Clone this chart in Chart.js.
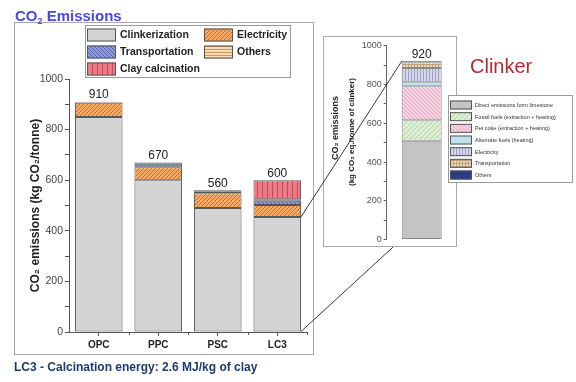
<!DOCTYPE html>
<html>
<head>
<meta charset="utf-8">
<script src="https://cdn.jsdelivr.net/npm/chart.js@4/dist/chart.umd.min.js"></script>
<style>
  html, body { margin: 0; padding: 0; background: #fff; }
  #page { position: relative; width: 576px; height: 382px; overflow: hidden; }
  canvas { position: absolute; }
  #main { left: 0; top: 0; }
  #inset { left: 323px; top: 36px; }
  #links { left: 0; top: 0; pointer-events: none; }
</style>
</head>
<body>
<div id="page">
  <canvas id="main" width="576" height="382" style="width:576px;height:382px"></canvas>
  <canvas id="inset" width="253" height="211" style="width:253px;height:211px"></canvas>
  <canvas id="links" width="576" height="382" style="width:576px;height:382px"></canvas>
</div>
<script>
// ---- cement types: CO2 emissions by source (kg CO2 / tonne) ----
const categories = ['OPC', 'PPC', 'PSC', 'LC3'];
const clinkerization   = [850, 600, 490, 455];
const electricity      = [56, 51, 58, 47];
const transportation   = [2, 14, 8, 17];
const others           = [2, 5, 4, 6];
const clayCalcination  = [0, 0, 0, 75];
const yTickLabels      = [0, 200, 400, 600, 800, 1000];

// ---- clinker breakdown (kg CO2 eq. / tonne of clinker) ----
const clinkerCategory    = ['Clinker'];
const directLimestone    = [510];
const fossilFuels        = [106];
const petCoke            = [175];
const alternateFuels     = [20];
const clinkerElectricity = [74];
const clinkerTransport   = [30];
const clinkerOthers      = [5];
const insetTickLabels    = [0, 200, 400, 600, 800, 1000];

const FONT = '"Liberation Sans", Arial, Helvetica, sans-serif';
Chart.defaults.font.family = FONT;
Chart.defaults.color = '#333';

// hatch fills for the bar segments
function hatch(ctx, bg, fg, kind, size) {
  const c = document.createElement('canvas');
  c.width = c.height = size;
  const g = c.getContext('2d');
  g.fillStyle = bg;
  g.fillRect(0, 0, size, size);
  g.strokeStyle = fg;
  g.lineWidth = 1;
  g.beginPath();
  const h = Math.floor(size / 2) + 0.5;
  if (kind === 'fwd') {
    g.moveTo(0, size); g.lineTo(size, 0);
    g.moveTo(-size, size); g.lineTo(0, 0);
    g.moveTo(size, 2 * size); g.lineTo(2 * size, size);
  } else if (kind === 'back') {
    g.moveTo(0, 0); g.lineTo(size, size);
    g.moveTo(-size, 0); g.lineTo(0, size);
    g.moveTo(size, 0); g.lineTo(2 * size, size);
  } else if (kind === 'vert') {
    g.moveTo(h, 0); g.lineTo(h, size);
  } else if (kind === 'horiz') {
    g.moveTo(0, h); g.lineTo(size, h);
  } else if (kind === 'grid') {
    g.moveTo(h, 0); g.lineTo(h, size);
    g.moveTo(0, h); g.lineTo(size, h);
  }
  g.stroke();
  return ctx.createPattern(c, 'repeat');
}

function sumAt(datasets, i) {
  return datasets.reduce((s, d) => s + (d.data[i] || 0), 0);
}

// ================= main chart =================
const mainCtx = document.getElementById('main').getContext('2d');

const mainDecor = {
  id: 'mainDecor',
  beforeDraw(chart) {
    const c = chart.ctx;
    c.save();
    c.strokeStyle = '#a8a8a8';
    c.lineWidth = 1;
    c.strokeRect(14.5, 22.5, 299, 332);
    c.restore();
  },
  afterDraw(chart) {
    const c = chart.ctx;
    const xs = chart.scales.x, ys = chart.scales.y;
    const ds = chart.data.datasets;
    c.save();

    // boundary ticks between categories
    c.strokeStyle = '#555';
    c.lineWidth = 1;
    const step = (xs.right - xs.left) / categories.length;
    c.beginPath();
    for (let i = 1; i <= categories.length; i++) {
      const x = Math.round(xs.left + i * step) + 0.5;
      c.moveTo(x, ys.bottom); c.lineTo(x, ys.bottom + 3);
    }
    c.stroke();

    // totals above the stacks
    c.fillStyle = '#222';
    c.font = '12px ' + FONT;
    c.textAlign = 'center';
    c.textBaseline = 'bottom';
    categories.forEach((_, i) => {
      const total = sumAt(ds, i);
      c.fillText(String(total), xs.getPixelForValue(i), ys.getPixelForValue(total) - 1);
    });

    // legend
    const slots = [
      { idx: 0, x: 87, y: 35 }, { idx: 2, x: 87, y: 52 }, { idx: 4, x: 87, y: 69 },
      { idx: 1, x: 204, y: 35 }, { idx: 3, x: 204, y: 52 }
    ];
    c.fillStyle = '#fff';
    c.fillRect(85.5, 25.5, 205, 52);
    c.strokeStyle = '#9a9a9a';
    c.strokeRect(85.5, 25.5, 205, 52);
    c.font = 'bold 10.5px ' + FONT;
    c.textAlign = 'left';
    c.textBaseline = 'middle';
    slots.forEach(s => {
      const d = ds[s.idx];
      c.fillStyle = d.backgroundColor;
      c.fillRect(s.x, s.y - 6.5, 29, 13);
      c.strokeStyle = '#555';
      c.strokeRect(s.x + 0.5, s.y - 6, 28, 12);
      c.fillStyle = '#222';
      c.fillText(d.label, s.x + 33, s.y + 0.5);
    });

    // heading
    c.fillStyle = '#4a46ee';
    c.font = 'bold 15px ' + FONT;
    c.textBaseline = 'alphabetic';
    c.fillText('CO', 15, 21);
    const w = c.measureText('CO').width;
    c.font = 'bold 9px ' + FONT;
    c.fillText('2', 15 + w, 24);
    const w2 = c.measureText('2').width;
    c.font = 'bold 15px ' + FONT;
    c.fillText(' Emissions', 15 + w + w2, 21);

    // footnote
    c.fillStyle = '#1f3a70';
    c.font = 'bold 12px ' + FONT;
    c.fillText('LC3 - Calcination energy: 2.6 MJ/kg of clay', 14, 371);
    c.restore();
  }
};

const barBorder = '#585858';
const mainChart = new Chart(mainCtx, {
  type: 'bar',
  data: {
    labels: categories,
    datasets: [
      { label: 'Clinkerization', data: clinkerization, backgroundColor: '#d4d4d4' },
      { label: 'Electricity', data: electricity, backgroundColor: hatch(mainCtx, '#f4aa62', '#c0712e', 'fwd', 4) },
      { label: 'Transportation', data: transportation, backgroundColor: hatch(mainCtx, '#8e9ada', '#5060b0', 'back', 4) },
      { label: 'Others', data: others, backgroundColor: hatch(mainCtx, '#f9dcb4', '#cf9658', 'horiz', 3) },
      { label: 'Clay calcination', data: clayCalcination, backgroundColor: hatch(mainCtx, '#ec7a86', '#c04e5a', 'vert', 5) }
    ].map(d => Object.assign(d, { borderColor: barBorder, borderWidth: 1, borderSkipped: false }))
  },
  options: {
    responsive: false,
    animation: false,
    devicePixelRatio: 1,
    layout: { padding: { left: 0, top: 79, right: 269, bottom: 20 } },
    datasets: { bar: { categoryPercentage: 1, barPercentage: 0.8 } },
    plugins: { legend: { display: false }, tooltip: { enabled: false } },
    scales: {
      x: {
        stacked: true,
        grid: { offset: false, drawOnChartArea: false, tickLength: 4, color: '#555' },
        border: { color: '#555' },
        ticks: { font: { size: 10, weight: 'bold' }, color: '#222', padding: 3 },
        afterFit(s) { s.height = 30; }
      },
      y: {
        stacked: true,
        min: 0, max: 1000,
        grid: { drawOnChartArea: false, tickLength: 4, color: '#555' },
        border: { color: '#555' },
        ticks: {
          stepSize: 100, autoSkip: false, padding: 2,
          font: { size: 10.5 }, color: '#444',
          callback: v => (yTickLabels.includes(v) ? String(v) : '')
        },
        title: {
          display: true,
          text: 'CO₂ emissions (kg CO₂/tonne)',
          font: { size: 12, weight: 'bold' }, color: '#222',
          padding: { top: 28, bottom: 0 }
        },
        afterFit(s) { s.width = 69; }
      }
    }
  },
  plugins: [mainDecor]
});

// ================= clinker inset =================
const insetCtx = document.getElementById('inset').getContext('2d');

const insetDecor = {
  id: 'insetDecor',
  beforeDraw(chart) {
    const c = chart.ctx;
    c.save();
    c.fillStyle = '#fff';
    c.fillRect(0, 0, 134, 211);
    c.strokeStyle = '#a8a8a8';
    c.strokeRect(0.5, 0.5, 133, 210);
    c.restore();
  },
  afterDraw(chart) {
    const c = chart.ctx;
    const xs = chart.scales.x, ys = chart.scales.y;
    const ds = chart.data.datasets;
    c.save();

    // axis title, two lines
    c.fillStyle = '#222';
    c.textAlign = 'center';
    c.textBaseline = 'middle';
    c.translate(13, 92);
    c.rotate(-Math.PI / 2);
    c.font = 'bold 9px ' + FONT;
    c.fillText('CO₂ emissions', 0, 0);
    c.setTransform(1, 0, 0, 1, 0, 0);
    c.translate(29, 96);
    c.rotate(-Math.PI / 2);
    c.font = 'bold 8px ' + FONT;
    c.fillText('(kg CO₂ eq./tonne of clinker)', 0, 0);
    c.setTransform(1, 0, 0, 1, 0, 0);

    // total above the bar
    const total = sumAt(ds, 0);
    c.font = '12px ' + FONT;
    c.textBaseline = 'bottom';
    c.fillText(String(total), xs.getPixelForValue(0), ys.getPixelForValue(total) - 1);

    // legend box
    c.fillStyle = '#fff';
    c.fillRect(125.5, 59.5, 124, 87);
    c.strokeStyle = '#9a9a9a';
    c.lineWidth = 1;
    c.strokeRect(125.5, 59.5, 124, 87);
    c.font = '5.5px ' + FONT;
    c.textAlign = 'left';
    c.textBaseline = 'middle';
    ds.forEach((d, i) => {
      const y = 69 + i * 11.67;
      c.fillStyle = d.backgroundColor;
      c.fillRect(127, y - 4.5, 22, 9);
      c.strokeStyle = '#555';
      c.strokeRect(127.5, y - 4, 21, 8);
      c.fillStyle = '#333';
      c.fillText(d.label, 152, y + 0.5);
    });

    // panel label
    c.fillStyle = '#b52a2f';
    c.font = '20px ' + FONT;
    c.textBaseline = 'alphabetic';
    c.fillText('Clinker', 147, 37);
    c.restore();
  }
};

const insetChart = new Chart(insetCtx, {
  type: 'bar',
  data: {
    labels: clinkerCategory,
    datasets: [
      { label: 'Direct emissions form limestone', data: directLimestone, backgroundColor: '#c4c4c4', borderColor: '#858585' },
      { label: 'Fossil fuels (extraction + heating)', data: fossilFuels, backgroundColor: hatch(insetCtx, '#dcefd4', '#b2d4a4', 'fwd', 5), borderColor: '#8a8a8a' },
      { label: 'Pet coke (extraction + heating)', data: petCoke, backgroundColor: hatch(insetCtx, '#f7d2e2', '#e6a6c2', 'back', 4), borderColor: '#8a8a8a' },
      { label: 'Alternate fuels (heating)', data: alternateFuels, backgroundColor: '#bfe3ee', borderColor: '#7a8a90' },
      { label: 'Electricity', data: clinkerElectricity, backgroundColor: hatch(insetCtx, '#d6d6ec', '#a0a0c4', 'vert', 3), borderColor: '#8a8a8a' },
      { label: 'Transportation', data: clinkerTransport, backgroundColor: hatch(insetCtx, '#eddabc', '#bea07a', 'grid', 3), borderColor: '#8a8a8a' },
      { label: 'Others', data: clinkerOthers, backgroundColor: '#2b3c85', borderColor: '#2b3c85' }
    ].map(d => Object.assign(d, { borderWidth: 1, borderSkipped: false }))
  },
  options: {
    responsive: false,
    animation: false,
    devicePixelRatio: 1,
    layout: { padding: { left: 0, top: 9.7, right: 119.3, bottom: 5.3 } },
    datasets: { bar: { categoryPercentage: 1, barPercentage: 0.571 } },
    plugins: { legend: { display: false }, tooltip: { enabled: false } },
    scales: {
      x: { stacked: true, display: false },
      y: {
        stacked: true,
        min: 0, max: 1000,
        grid: { drawOnChartArea: false, tickLength: 3, color: '#666' },
        border: { color: '#666' },
        ticks: {
          stepSize: 100, autoSkip: false, padding: 2,
          font: { size: 9 }, color: '#555',
          callback: v => (insetTickLabels.includes(v) ? String(v) : '')
        },
        afterFit(s) { s.width = 63.7; }
      }
    }
  },
  plugins: [insetDecor]
});

// ================= zoom lines from LC3 to the clinker bar =================
(function drawLinks() {
  const insetLeft = 323, insetTop = 36, panelBottom = 247;
  const lc3 = categories.indexOf('LC3');
  const clk = mainChart.getDatasetMeta(0).data[lc3];
  const xr = clk.x + clk.width / 2;
  const yClk = clk.y;
  const yBase = clk.base;

  const topEl = insetChart.getDatasetMeta(insetChart.data.datasets.length - 1).data[0];
  const baseEl = insetChart.getDatasetMeta(0).data[0];
  const xl = insetLeft + baseEl.x - baseEl.width / 2;
  const yTop = insetTop + topEl.y;
  const yBot = insetTop + baseEl.base;

  const c = document.getElementById('links').getContext('2d');
  c.strokeStyle = '#3a3a3a';
  c.lineWidth = 1;
  c.beginPath();
  c.moveTo(xr, yClk);
  c.lineTo(xl, yTop);
  const t = (panelBottom - yBase) / (yBot - yBase);
  c.moveTo(xr, yBase);
  c.lineTo(xr + t * (xl - xr), panelBottom);
  c.stroke();
})();
</script>
</body>
</html>
